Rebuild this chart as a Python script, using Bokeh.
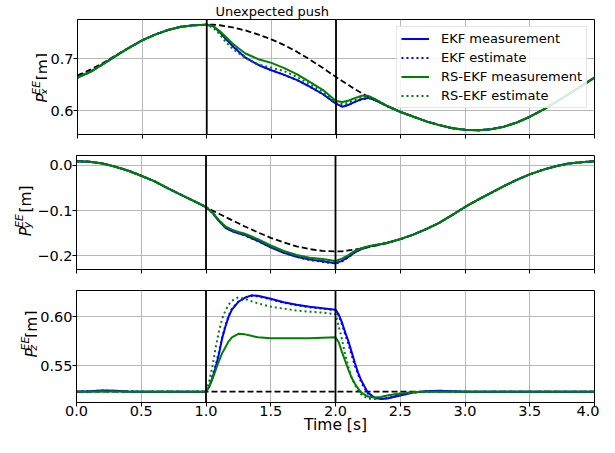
import math
from bokeh.plotting import figure
from bokeh.layouts import column, row
from bokeh.models import (Range1d, FixedTicker, CustomJSTickFormatter, Span, Label,
                          Legend, LegendItem, Title)
from bokeh.embed import file_html
from bokeh.resources import INLINE

FONT = "DejaVu Sans"

# ---------------- data ----------------
x_ticks = [0.0, 0.5, 1.0, 1.5, 2.0, 2.5, 3.0, 3.5, 4.0]
push_times = [1.0, 2.0]
push_text = "Unexpected push"
push_text_time = 1.5
x_label = "Time [s]"

# time grid for the x and y panels
t_xy = [0.0, 0.1, 0.2, 0.3, 0.4, 0.5, 0.6, 0.7, 0.8, 0.9, 1.0,
        1.05, 1.1, 1.15, 1.2, 1.25, 1.3, 1.4, 1.5, 1.6, 1.7, 1.8, 1.9, 2.0,
        2.05, 2.1, 2.15, 2.2, 2.25, 2.3, 2.35, 2.4, 2.5,
        2.6, 2.7, 2.8, 2.9, 3.0, 3.1, 3.2, 3.3, 3.4, 3.5, 3.6, 3.7, 3.8, 3.9, 4.0]

# P_x
pre_x = [0.664, 0.675, 0.690, 0.706, 0.721, 0.735, 0.746, 0.755, 0.761, 0.764, 0.765]
pre_ref_x = [0.668, 0.679, 0.692, 0.707, 0.721, 0.735, 0.746, 0.755, 0.761, 0.764, 0.765]
tail_x = [0.589, 0.580, 0.573, 0.567, 0.564, 0.563, 0.565, 0.570, 0.578, 0.589,
          0.602, 0.617, 0.632, 0.648, 0.664]
ekf_meas_x_mid = [0.762, 0.751, 0.737, 0.724, 0.713, 0.702, 0.688, 0.678, 0.669, 0.659, 0.646, 0.632, 0.614,
                  0.608, 0.612, 0.618, 0.623, 0.625, 0.621, 0.615, 0.609, 0.598]
ekf_est_x_mid = [0.762, 0.751, 0.738, 0.725, 0.713, 0.702, 0.688, 0.678, 0.669, 0.659, 0.646, 0.632, 0.614,
                 0.609, 0.612, 0.618, 0.622, 0.625, 0.621, 0.615, 0.609, 0.598]
rs_meas_x_mid = [0.762, 0.753, 0.741, 0.729, 0.719, 0.710, 0.699, 0.692, 0.682, 0.670, 0.655, 0.640, 0.619,
                 0.617, 0.620, 0.625, 0.629, 0.629, 0.623, 0.616, 0.609, 0.598]
rs_est_x_mid = [0.759, 0.747, 0.731, 0.719, 0.710, 0.701, 0.689, 0.683, 0.676, 0.665, 0.651, 0.636, 0.616,
                0.613, 0.616, 0.621, 0.626, 0.627, 0.622, 0.616, 0.609, 0.598]
ref_x_mid = [0.765, 0.764, 0.762, 0.760, 0.757, 0.754, 0.746, 0.737, 0.726, 0.713, 0.698, 0.682, 0.665,
             0.657, 0.649, 0.641, 0.634, 0.627, 0.621, 0.615, 0.609, 0.598]

# P_y
pre_y = [0.009, 0.008, 0.004, -0.003, -0.012, -0.023, -0.035, -0.050, -0.064, -0.078, -0.092]
tail_y = [-0.153, -0.141, -0.127, -0.110, -0.092, -0.076, -0.061, -0.046, -0.032, -0.020,
          -0.010, -0.002, 0.004, 0.007, 0.009]
ekf_meas_y_mid = [-0.105, -0.123, -0.138, -0.145, -0.150, -0.154, -0.167, -0.181, -0.193, -0.202, -0.208, -0.212, -0.216,
                  -0.211, -0.202, -0.192, -0.185, -0.180, -0.177, -0.174, -0.171, -0.163]
ekf_est_y_mid = [-0.105, -0.122, -0.137, -0.145, -0.150, -0.155, -0.167, -0.181, -0.193, -0.202, -0.209, -0.213, -0.217,
                 -0.212, -0.203, -0.192, -0.185, -0.180, -0.177, -0.174, -0.171, -0.163]
rs_meas_y_mid = [-0.104, -0.121, -0.135, -0.142, -0.147, -0.151, -0.163, -0.177, -0.189, -0.198, -0.204, -0.207, -0.211,
                 -0.206, -0.198, -0.189, -0.183, -0.179, -0.176, -0.174, -0.171, -0.163]
rs_est_y_mid = [-0.105, -0.122, -0.136, -0.143, -0.148, -0.152, -0.164, -0.178, -0.190, -0.199, -0.205, -0.209, -0.213,
                -0.208, -0.199, -0.189, -0.183, -0.179, -0.176, -0.174, -0.171, -0.163]
ref_y_mid = [-0.100, -0.107, -0.114, -0.121, -0.128, -0.135, -0.148, -0.160, -0.170, -0.179, -0.185, -0.189, -0.190,
             -0.190, -0.188, -0.186, -0.184, -0.181, -0.178, -0.175, -0.172, -0.163]

# P_z
t_z = [0.0, 0.1, 0.2, 0.3, 0.4, 0.5, 0.6, 0.7, 0.8, 0.9, 1.0,
       1.025, 1.05, 1.075, 1.1, 1.125, 1.15, 1.175, 1.2, 1.25, 1.3, 1.35, 1.4, 1.5, 1.6, 1.7, 1.8, 1.9, 2.0,
       2.025, 2.05, 2.075, 2.1, 2.125, 2.15, 2.175, 2.2, 2.25, 2.3, 2.35, 2.4, 2.5,
       2.6, 2.7, 2.8, 2.9, 3.0, 3.2, 3.4, 3.6, 3.8, 4.0]
pre_z_ekf = [0.524, 0.5245, 0.5252, 0.5248, 0.5242, 0.524, 0.524, 0.524, 0.524, 0.524, 0.524]
pre_z_rs = [0.5238, 0.524, 0.5242, 0.5241, 0.524, 0.524, 0.524, 0.524, 0.524, 0.524, 0.524]
tail_z_ekf = [0.523, 0.5245, 0.5248, 0.5244, 0.524, 0.524, 0.524, 0.524, 0.524, 0.524]
tail_z_rs = [0.5235, 0.524, 0.524, 0.524, 0.524, 0.524, 0.524, 0.524, 0.524, 0.524]
ekf_meas_z_mid = [0.529, 0.538, 0.549, 0.562, 0.578, 0.590, 0.600, 0.607, 0.615, 0.619, 0.6215, 0.621, 0.618,
                  0.6145, 0.612, 0.610, 0.6085, 0.607,
                  0.602, 0.594, 0.584, 0.575, 0.564, 0.553, 0.543, 0.535, 0.523, 0.518, 0.5165, 0.517, 0.520]
ekf_est_z_mid = [0.530, 0.540, 0.551, 0.564, 0.579, 0.591, 0.601, 0.608, 0.615, 0.619, 0.621, 0.6205, 0.6175,
                 0.614, 0.6115, 0.6095, 0.608, 0.6065,
                 0.601, 0.592, 0.582, 0.572, 0.561, 0.550, 0.541, 0.533, 0.522, 0.5175, 0.5165, 0.5175, 0.5205]
rs_meas_z_mid = [0.529, 0.537, 0.546, 0.555, 0.563, 0.569, 0.575, 0.579, 0.5825, 0.582, 0.5805, 0.579, 0.578,
                 0.578, 0.578, 0.578, 0.5785, 0.579,
                 0.574, 0.564, 0.555, 0.546, 0.538, 0.532, 0.527, 0.523, 0.519, 0.518, 0.5185, 0.520, 0.522]
rs_est_z_mid = [0.535, 0.550, 0.569, 0.585, 0.598, 0.606, 0.612, 0.616, 0.6195, 0.618, 0.6155, 0.6135, 0.610,
                0.608, 0.606, 0.605, 0.604, 0.6025,
                0.590, 0.577, 0.561, 0.549, 0.538, 0.531, 0.525, 0.521, 0.517, 0.5165, 0.518, 0.520, 0.522]
t_ref_z = [0.0, 4.0]
ref_z = [0.524, 0.524]

series_x = {
    "ref": (t_xy, pre_ref_x + ref_x_mid + tail_x),
    "ekf_meas": (t_xy, pre_x + ekf_meas_x_mid + tail_x),
    "ekf_est": (t_xy, pre_x + ekf_est_x_mid + tail_x),
    "rs_meas": (t_xy, pre_x + rs_meas_x_mid + tail_x),
    "rs_est": (t_xy, pre_x + rs_est_x_mid + tail_x),
}
series_y = {
    "ref": (t_xy, pre_y + ref_y_mid + tail_y),
    "ekf_meas": (t_xy, pre_y + ekf_meas_y_mid + tail_y),
    "ekf_est": (t_xy, pre_y + ekf_est_y_mid + tail_y),
    "rs_meas": (t_xy, pre_y + rs_meas_y_mid + tail_y),
    "rs_est": (t_xy, pre_y + rs_est_y_mid + tail_y),
}
series_z = {
    "ref": (t_ref_z, ref_z),
    "ekf_meas": (t_z, pre_z_ekf + ekf_meas_z_mid + tail_z_ekf),
    "ekf_est": (t_z, pre_z_ekf + ekf_est_z_mid + tail_z_ekf),
    "rs_meas": (t_z, pre_z_rs + rs_meas_z_mid + tail_z_rs),
    "rs_est": (t_z, pre_z_rs + rs_est_z_mid + tail_z_rs),
}

legend_labels = ["EKF measurement", "EKF estimate", "RS-EKF measurement", "RS-EKF estimate"]

# ---------------- styling ----------------
STYLES = {
    "ref": dict(line_color="black", line_width=1.8, line_dash="6 3"),
    "ekf_meas": dict(line_color="#0000ff", line_width=2),
    "ekf_est": dict(line_color="#0000ff", line_width=2, line_dash="2 3"),
    "rs_meas": dict(line_color="#008000", line_width=2),
    "rs_est": dict(line_color="#008000", line_width=2, line_dash="2 3"),
}
ORDER = ["ref", "ekf_meas", "ekf_est", "rs_meas", "rs_est"]

TOTAL_W = 599
FRAME_LEFT = 75
RIGHT = 5
FRAME_W = TOTAL_W - FRAME_LEFT - RIGHT


def fmt(decimals):
    return CustomJSTickFormatter(code=(
        "const s = Math.abs(tick).toFixed(%d);"
        "return (tick < -1e-9 ? '\u2212' : '') + s;" % decimals))


def make_fig(strip_w, height, top, bottom, yr, yticks, decimals, show_xlabels, x_range):
    p = figure(width=TOTAL_W - strip_w, height=height, x_range=x_range, y_range=Range1d(*yr),
               min_border_left=FRAME_LEFT - strip_w, min_border_right=RIGHT, min_border_top=top,
               min_border_bottom=bottom, toolbar_location=None, output_backend="svg",
               title=None)
    p.background_fill_color = "white"
    p.border_fill_color = "white"
    p.outline_line_color = "black"
    p.outline_line_width = 1
    p.xaxis.ticker = FixedTicker(ticks=x_ticks)
    p.yaxis.ticker = FixedTicker(ticks=yticks)
    for ax in (p.xaxis[0], p.yaxis[0]):
        ax.axis_line_color = "black"
        ax.major_tick_line_color = "black"
        ax.major_tick_out = 4
        ax.major_tick_in = 0
        ax.minor_tick_out = 0
        ax.minor_tick_in = 0
        ax.major_label_text_font = FONT
        ax.major_label_text_font_size = "14.5px"
        ax.major_label_text_color = "black"
    p.yaxis.major_label_standoff = 0
    p.yaxis.formatter = fmt(decimals)
    if show_xlabels:
        p.xaxis.formatter = fmt(1)
        p.xaxis.major_label_standoff = -1
        p.xaxis.axis_label = x_label
        p.xaxis.axis_label_text_font = FONT
        p.xaxis.axis_label_text_font_size = "15.5px"
        p.xaxis.axis_label_text_font_style = "normal"
        p.xaxis.axis_label_text_color = "black"
        p.xaxis.axis_label_standoff = -3
    else:
        p.xaxis.formatter = CustomJSTickFormatter(code="return '';")
        p.xaxis.major_label_text_font_size = "0px"
        p.xaxis.major_label_standoff = 0
    p.grid.grid_line_color = "#b8b8b8"
    p.grid.grid_line_width = 1
    return p


def blank(width, height):
    f = figure(width=width, height=height, x_range=Range1d(0, width),
               y_range=Range1d(0, height), x_axis_type=None, y_axis_type=None,
               min_border_left=0, min_border_right=0, min_border_top=0,
               min_border_bottom=0, toolbar_location=None, output_backend="svg", title=None)
    f.grid.visible = False
    f.outline_line_color = None
    f.background_fill_color = "white"
    f.border_fill_color = "white"
    return f


def add_lines(p, series):
    rs = {}
    for key in ORDER:
        t, v = series[key]
        rs[key] = p.line(t, v, **STYLES[key])
    for tp in push_times:
        p.add_layout(Span(location=tp, dimension="height", line_color="black", line_width=1.8))
    return rs


def ylabel_strip(sub, strip_w, height, bottom, frame_h, bx):
    s = blank(strip_w, height)
    F = 15.5
    f = 10.9
    L = 9.3 + 13.8 + 5.0 + 27.2
    y0 = bottom + frame_h / 2.0 - L / 2.0
    pieces = [
        ("P", bx, y0, F, "italic"),
        ("EE", bx - 6.5, y0 + 10.0, f, "italic"),
        (sub, bx + 2.0, y0 + 9.6, f, "italic"),
        ("[m]", bx, y0 + 9.3 + 13.8 + 5.0, F, "normal"),
    ]
    for txt, x, y, size, style in pieces:
        s.add_layout(Label(x=x, y=y, text=txt, angle=math.pi / 2, text_align="left",
                           text_baseline="alphabetic", text_font=FONT,
                           text_font_size="%.1fpx" % size, text_font_style=style,
                           text_color="black"))
    return s


shared_x = Range1d(0, 4)

# geometry: strip width, height, top border, bottom border
TITLE_H = 19
W1, H1, T1, B1 = 47, 144, TITLE_H, 10
W2, H2, T2, B2 = 34, 135, 11, 10
W3, H3, T3, B3 = 37, 158, 11, 35

p1 = make_fig(W1, H1, 0, B1, (0.555, 0.775), [0.6, 0.7], 1, False, shared_x)
push_text_width = 114  # approx. rendered width of the annotation in px
push_offset = int(round(push_text_time / 4.0 * FRAME_W - push_text_width / 2.0))
p1.add_layout(Title(text=push_text, align="left", offset=push_offset, standoff=2,
                    vertical_align="bottom", text_font=FONT, text_font_size="13px",
                    text_font_style="normal", text_color="black"), "above")
r1 = add_lines(p1, series_x)
legend = Legend(items=[LegendItem(label=legend_labels[0], renderers=[r1["ekf_meas"]]),
                       LegendItem(label=legend_labels[1], renderers=[r1["ekf_est"]]),
                       LegendItem(label=legend_labels[2], renderers=[r1["rs_meas"]]),
                       LegendItem(label=legend_labels[3], renderers=[r1["rs_est"]])],
                location="top_right")
legend.margin = 7
legend.padding = 4
legend.spacing = 4
legend.glyph_width = 28
legend.glyph_height = 15
legend.label_height = 15
legend.label_standoff = 12
legend.label_text_font = FONT
legend.label_text_font_size = "13px"
legend.label_text_color = "black"
legend.border_line_color = "#cccccc"
legend.border_line_width = 1
legend.background_fill_color = "white"
legend.background_fill_alpha = 0.85
p1.add_layout(legend)
s1 = ylabel_strip("x", W1, H1, B1, H1 - T1 - B1, 42)

p2 = make_fig(W2, H2, T2, B2, (-0.230, 0.0217), [-0.2, -0.1, 0.0], 1, False, shared_x)
add_lines(p2, series_y)
s2 = ylabel_strip("y", W2, H2, B2, H2 - T2 - B2, 25.3)

p3 = make_fig(W3, H3, T3, B3, (0.513, 0.6264), [0.55, 0.60], 2, True, shared_x)
add_lines(p3, series_z)
s3 = ylabel_strip("z", W3, H3, B3, H3 - T3 - B3, 31)

layout = column(row(s1, p1, spacing=0), row(s2, p2, spacing=0),
                row(s3, p3, spacing=0), spacing=0)
open("out.html", "w").write(file_html(layout, INLINE))
